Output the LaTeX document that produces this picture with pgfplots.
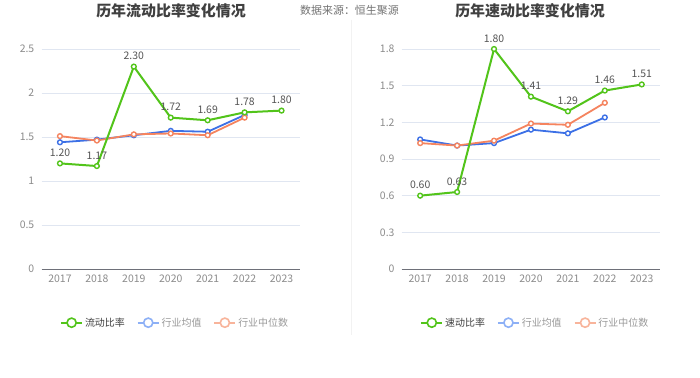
\documentclass[border=0pt]{standalone}
\usepackage{pgfplots}
\pgfplotsset{compat=1.18}
\usepackage{fontspec}
\setmainfont{Noto Sans CJK SC}
\definecolor{cgreen}{HTML}{52C41A}
\definecolor{cblue}{HTML}{3C70E6}
\definecolor{corange}{HTML}{F5845F}
\definecolor{lblue}{HTML}{8DB0F6}
\definecolor{lorange}{HTML}{F8B49B}
\definecolor{gridc}{HTML}{E0E6F1}
\definecolor{axisc}{HTML}{6E7079}
\definecolor{tickc}{HTML}{8C8C8C}
\definecolor{labc}{HTML}{555555}
\pgfplotsset{
  mystyle/.style={
    scale only axis, width=258.5bp, height=220bp,
    xmin=-0.5, xmax=6.5, ymin=0,
    axis lines*=left,
    y axis line style={draw=none},
    x axis line style={-, color=axisc, line width=1bp},
    major tick length=0,
    ymajorgrids, major grid style={color=gridc, line width=0.8bp},
    xtick={0,...,6},
    xticklabels={2017,2018,2019,2020,2021,2022,2023},
    xticklabel style={inner sep=0pt, yshift=-6bp, font=\fontsize{10.5}{12}\selectfont, text=tickc},
    yticklabel style={inner sep=0pt, xshift=-7bp, font=\fontsize{10.5}{12}\selectfont, text=tickc},
    clip=false,
    legend style={draw=none, fill=none, anchor=west, legend columns=-1, inner sep=0pt,
      font=\fontsize{10}{12}\selectfont,
      /tikz/every even column/.append style={column sep=10bp}},
    legend cell align=left,
  },
  green line/.style={color=cgreen, line width=2bp, mark=*, mark size=2.4bp,
    mark options={fill=white, draw=cgreen, line width=1.4bp},
    point meta=explicit symbolic, nodes near coords,
    nodes near coords style={anchor=south, inner sep=0pt, yshift=6bp, text=labc, font=\fontsize{10.5}{12}\selectfont}},
  blue line/.style={color=cblue, line width=1.8bp, mark=*, mark size=2.4bp,
    mark options={fill=white, draw=cblue, line width=1.4bp}},
  orange line/.style={color=corange, line width=1.8bp, mark=*, mark size=2.4bp,
    mark options={fill=white, draw=corange, line width=1.4bp}},
  legG/.style={legend image code/.code={\draw[cgreen, line width=1.8bp] (0bp,0bp) -- (21bp,0bp); \draw[cgreen, line width=1.6bp, fill=white] (10.5bp,0bp) circle (4.6bp);}},
  legB/.style={legend image code/.code={\draw[lblue, line width=1.8bp] (0bp,0bp) -- (21bp,0bp); \draw[lblue, line width=1.6bp, fill=white] (10.5bp,0bp) circle (4.6bp);}},
  legO/.style={legend image code/.code={\draw[lorange, line width=1.8bp] (0bp,0bp) -- (21bp,0bp); \draw[lorange, line width=1.6bp, fill=white] (10.5bp,0bp) circle (4.6bp);}},
}
\begin{document}
\begin{tikzpicture}[x=1bp,y=1bp]
\path[fill=white] (0,0) rectangle (700,377);
\draw[color=black!5, line width=1.5bp] (351.7,357) -- (351.7,42);
\node[font=\fontsize{15}{18}\selectfont\bfseries, text=black!75] at (171,366) {历年流动比率变化情况};
\node[font=\fontsize{15}{18}\selectfont\bfseries, text=black!75] at (530,366) {历年速动比率变化情况};
\node[font=\fontsize{11}{13}\selectfont, text=black!55] at (349.5,366.5) {数据来源：恒生聚源};

\begin{axis}[mystyle, at={(41.5bp,108bp)}, anchor=south west, ymax=2.5,
  ytick={0,0.5,1,1.5,2,2.5}, yticklabels={0,0.5,1,1.5,2,2.5},
  legend style={at={(axis description cs:0.0716,-0.244)}}]
\addplot[blue line, forget plot] coordinates {(0,1.44) (1,1.47) (2,1.52) (3,1.57) (4,1.56) (5,1.75)};
\addplot[orange line, forget plot] coordinates {(0,1.51) (1,1.46) (2,1.53) (3,1.54) (4,1.52) (5,1.72)};
\addplot[green line, forget plot] coordinates {(0,1.20) [1.20] (1,1.17) [1.17] (2,2.30) [2.30] (3,1.72) [1.72] (4,1.69) [1.69] (5,1.78) [1.78] (6,1.80) [1.80]};
\addlegendimage{legG}
\addlegendentry{\textcolor{black!75}{流动比率}}
\addlegendimage{legB}
\addlegendentry{\textcolor{black!40}{行业均值}}
\addlegendimage{legO}
\addlegendentry{\textcolor{black!40}{行业中位数}}
\end{axis}

\begin{axis}[mystyle, at={(401.7bp,108bp)}, anchor=south west, ymax=1.8,
  ytick={0,0.3,0.6,0.9,1.2,1.5,1.8}, yticklabels={0,0.3,0.6,0.9,1.2,1.5,1.8},
  legend style={at={(axis description cs:0.0716,-0.244)}}]
\addplot[blue line, forget plot] coordinates {(0,1.06) (1,1.01) (2,1.03) (3,1.14) (4,1.11) (5,1.24)};
\addplot[orange line, forget plot] coordinates {(0,1.03) (1,1.01) (2,1.05) (3,1.19) (4,1.18) (5,1.36)};
\addplot[green line, forget plot] coordinates {(0,0.60) [0.60] (1,0.63) [0.63] (2,1.80) [1.80] (3,1.41) [1.41] (4,1.29) [1.29] (5,1.46) [1.46] (6,1.51) [1.51]};
\addlegendimage{legG}
\addlegendentry{\textcolor{black!75}{速动比率}}
\addlegendimage{legB}
\addlegendentry{\textcolor{black!40}{行业均值}}
\addlegendimage{legO}
\addlegendentry{\textcolor{black!40}{行业中位数}}
\end{axis}
\end{tikzpicture}
\end{document}
